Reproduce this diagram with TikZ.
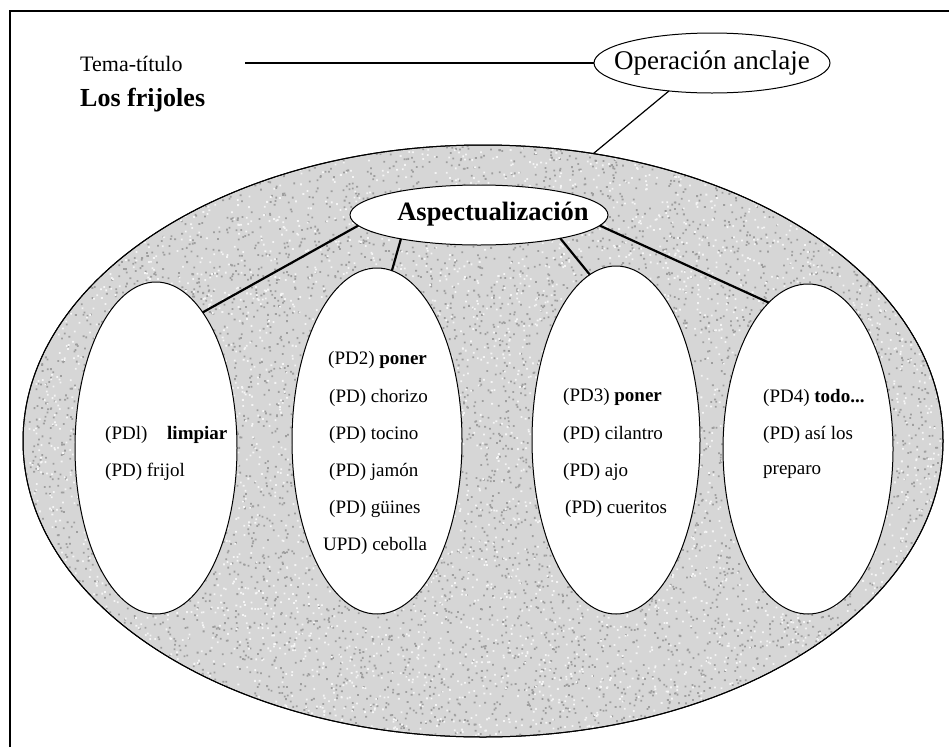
\documentclass[tikz,border=0pt]{standalone}
\usepackage{fontspec}
\setmainfont{Liberation Serif}
\usetikzlibrary{shapes.geometric}
\definecolor{speckbase}{gray}{0.84}
\definecolor{speckdark}{gray}{0.62}
\definecolor{specklight}{gray}{0.96}
\tikzset{
  ell/.style={ellipse, draw=black, line width=1pt, inner sep=0pt, outer sep=0pt},
  inner/.style={ell, fill=white},
  txt/.style={anchor=west, inner sep=0pt, font=\fontsize{19}{22}\selectfont},
  link/.style={draw=black, line width=2.2pt},
  thin link/.style={draw=black, line width=1.2pt}
}
\begin{document}
\begin{tikzpicture}[x=1pt,y=-1pt]
\useasboundingbox (0,0) rectangle (949,747);
\fill[white] (0,0) rectangle (949,747);
% frame
\draw[line width=1.8pt] (10,747) -- (10,11) -- (949,11);
% big ellipse with speckled texture
\node[ell, fill=speckbase, minimum width=920pt, minimum height=592pt] (big) at (483,441) {};
\begin{scope}
  \clip (483,441) ellipse [x radius=459, y radius=295];
  \pgfmathsetseed{42}
  \foreach \j in {1,...,50} {
    \fill[speckdark] \foreach \i in {1,...,150} { ({483+460*rand},{441+296*rand}) rectangle ++(1.8,1.8) };
  }
  \foreach \j in {1,...,35} {
    \fill[specklight] \foreach \i in {1,...,150} { ({483+460*rand},{441+296*rand}) rectangle ++(1.8,1.8) };
  }
\end{scope}
\draw[line width=1pt] (483,441) ellipse [x radius=460, y radius=296];
% title texts
\node[anchor=west, inner sep=0pt, font=\fontsize{22}{26}\selectfont] (tema) at (80,64) {Tema-título};
\node[anchor=west, inner sep=0pt, font=\fontsize{26}{30}\selectfont\bfseries] (frij) at (80,100) {Los frijoles};
% operacion anclaje
\node[ell, fill=white, minimum width=236pt, minimum height=60pt] (op) at (712,63) {};
\node[inner sep=0pt, font=\fontsize{27}{31}\selectfont] (optext) at (op) {Operación anclaje};
\coordinate (tl) at (245,63);
\draw[thin link] (tl) -- (op.west);
\draw[thin link] (op.213.7) -- (big.69.1);
% aspectualizacion
\node[ell, fill=white, minimum width=258pt, minimum height=60pt] (asp) at (479,215) {};
\node[inner sep=0pt, font=\fontsize{26.5}{30}\selectfont\bfseries] (asptext) at (493,214) {Aspectualización};
% four inner ellipses
\node[inner, minimum width=162pt, minimum height=332pt] (e1) at (156,448) {};
\node[inner, minimum width=170pt, minimum height=346pt] (e2) at (377,441) {};
\node[inner, minimum width=168pt, minimum height=348pt] (e3) at (616,440) {};
\node[inner, minimum width=170pt, minimum height=330pt] (e4) at (808,449) {};
% connectors
\draw[link] (asp.185) -- (e1.71.2);
\draw[link] (asp.197.3) -- (e2.85);
\draw[link] (asp.344) -- (e3.99.7);
\draw[link] (asp.355.4) -- (e4.105);
% texts ellipse 1
\node[txt] (a1) at (105,435) {(PDl)};
\node[txt, font=\fontsize{19}{22}\selectfont\bfseries] (a1b) at (167,435) {limpiar};
\node[txt] (a2) at (105,472) {(PD) frijol};
% texts ellipse 2
\node[txt] (b1) at (328,360) {(PD2) \textbf{poner}};
\node[txt] (b2) at (329,398) {(PD) chorizo};
\node[txt] (b3) at (329,435) {(PD) tocino};
\node[txt] (b4) at (329,472) {(PD) jamón};
\node[txt] (b5) at (329,509) {(PD) güines};
\node[txt] (b6) at (323,546) {UPD) cebolla};
% texts ellipse 3
\node[txt] (c1) at (563,397) {(PD3) \textbf{poner}};
\node[txt] (c2) at (563,435) {(PD) cilantro};
\node[txt] (c3) at (563,472) {(PD) ajo};
\node[txt] (c4) at (565,509) {(PD) cueritos};
% texts ellipse 4
\node[txt] (d1) at (763,398) {(PD4) \textbf{todo...}};
\node[txt] (d2) at (763,435) {(PD) así los};
\node[txt] (d3) at (763,472) {preparo};
\end{tikzpicture}
\end{document}
